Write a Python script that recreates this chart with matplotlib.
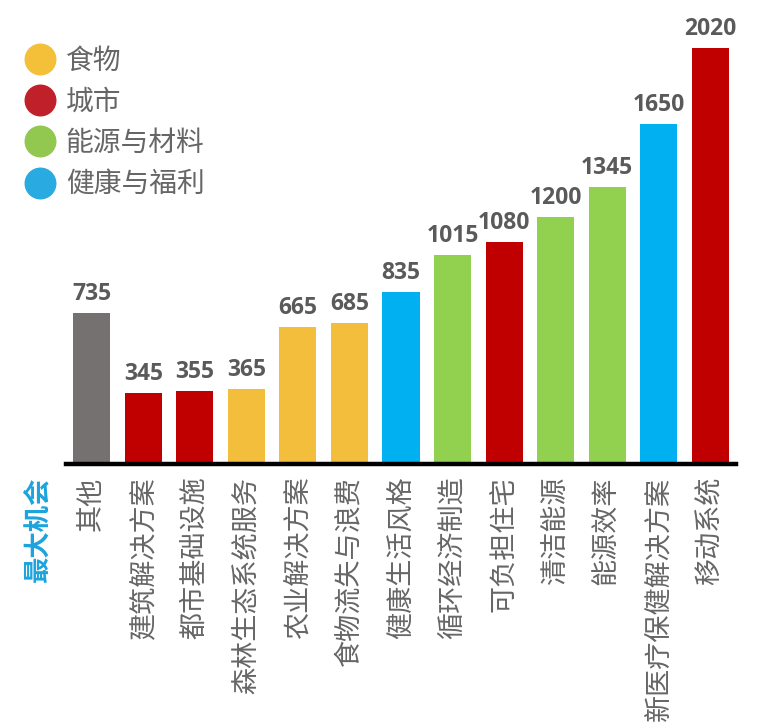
import matplotlib.pyplot as plt
from matplotlib.lines import Line2D

plt.rcParams['font.family'] = ['Noto Sans CJK SC', 'DejaVu Sans']

# data
categories = ['其他', '建筑解决方案', '都市基础设施', '森林生态系统服务', '农业解决方案',
              '食物流失与浪费', '健康生活风格', '循环经济制造', '可负担住宅', '清洁能源',
              '能源效率', '新医疗保健解决方案', '移动系统']
values = [735, 345, 355, 365, 665, 685, 835, 1015, 1080, 1200, 1345, 1650, 2020]
groups = ['其他', '城市', '城市', '食物', '食物', '食物', '健康与福利', '能源与材料',
          '城市', '能源与材料', '能源与材料', '健康与福利', '城市']

bar_colors = {'其他': '#767171', '食物': '#F2BE3C', '城市': '#C00000',
              '能源与材料': '#92D050', '健康与福利': '#00B0F0'}
legend_names = ['食物', '城市', '能源与材料', '健康与福利']
legend_colors = ['#F4C03A', '#C0202A', '#92C850', '#29ABE2']

text_gray = '#666666'

fig = plt.figure(figsize=(7.68, 7.26), dpi=100)
ax = fig.add_axes([66 / 768, 262 / 726, 670 / 768, 464 / 726])

x = range(len(categories))
ax.bar(x, values, width=0.72, color=[bar_colors[g] for g in groups])

for i, v in zip(x, values):
    ax.annotate(str(v), (i, v), xytext=(0, 5), textcoords='offset points',
                ha='center', va='bottom', fontsize=16.5, fontweight='bold',
                color='#5a5a5a', family=['Open Sans', 'DejaVu Sans'])

ax.set_xlim(-0.5, len(categories) - 0.5)
ax.set_ylim(0, 2253)
ax.set_xticks(list(x))
ax.set_xticklabels(categories, rotation=90, fontsize=19.5, color=text_gray,
                   va='top', ha='center')
ax.tick_params(axis='x', length=0, pad=9)
ax.set_yticks([])
for s in ['top', 'right', 'left']:
    ax.spines[s].set_visible(False)
ax.spines['bottom'].set_linewidth(3.2)
ax.spines['bottom'].set_color('black')

handles = [Line2D([], [], marker='o', linestyle='', markersize=22,
                  markerfacecolor=c, markeredgecolor=c) for c in legend_colors]
leg = fig.legend(handles, legend_names, loc='upper left',
                 bbox_to_anchor=(27 / 768, 1 - 46 / 726), frameon=False,
                 fontsize=20, handlelength=0.9, handletextpad=0.5,
                 labelspacing=0.4, borderaxespad=0, borderpad=0)
for t in leg.get_texts():
    t.set_color(text_gray)

fig.text(38 / 768, 1 - 477 / 726, '最大机会', rotation=90, ha='center', va='top',
         fontsize=19, fontweight='bold', color='#1CA4DC')

fig.savefig('out.png', dpi=100)
